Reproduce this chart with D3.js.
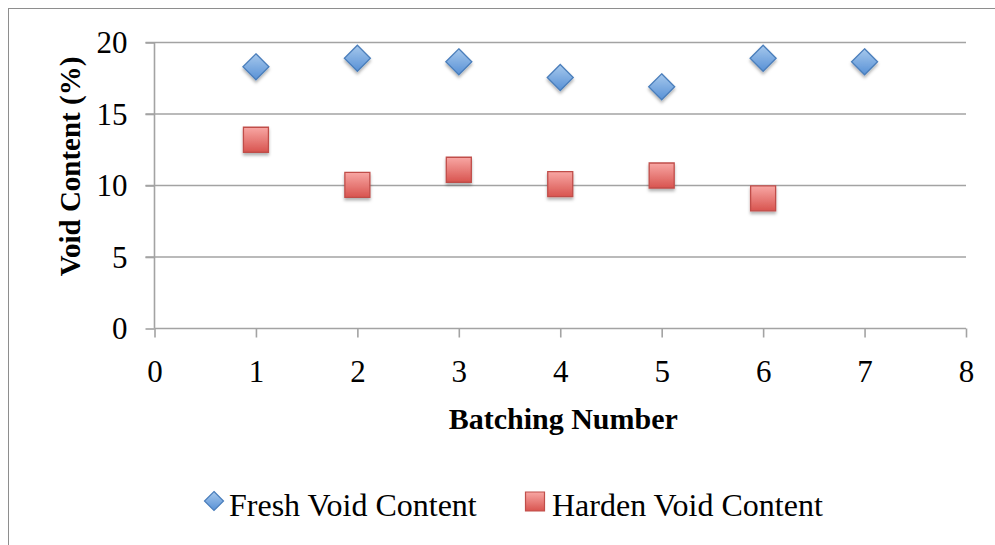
<!DOCTYPE html>
<html>
<head>
<meta charset="utf-8">
<script src="https://cdn.jsdelivr.net/npm/d3@7"></script>
<style>
  html, body { margin: 0; padding: 0; background: #fff; }
  svg { display: block; }
  text { font-family: "Liberation Serif", "Times New Roman", serif; fill: #000; }
</style>
</head>
<body>
<svg id="chart" width="995" height="545"></svg>
<script>
// Batching data: void content (%) measured fresh and after hardening
const batches = [1, 2, 3, 4, 5, 6, 7];
const freshVoid = [18.3, 18.9, 18.65, 17.55, 16.9, 18.9, 18.65];
const hardenBatches = [1, 2, 3, 4, 5, 6];
const hardenVoid = [13.2, 10.05, 11.1, 10.1, 10.7, 9.1];
const xTicks = [0, 1, 2, 3, 4, 5, 6, 7, 8];
const yTicks = [0, 5, 10, 15, 20];
const seriesNames = ["Fresh Void Content", "Harden Void Content"];

const svg = d3.select("#chart");
const defs = svg.append("defs");

// Gradients for the markers
const gBlue = defs.append("linearGradient").attr("id", "gBlue")
  .attr("x1", 0).attr("y1", 0).attr("x2", 0).attr("y2", 1);
gBlue.append("stop").attr("offset", "0%").attr("stop-color", "#a6c8ec");
gBlue.append("stop").attr("offset", "100%").attr("stop-color", "#5891d6");
const gRed = defs.append("linearGradient").attr("id", "gRed")
  .attr("x1", 0).attr("y1", 0).attr("x2", 0).attr("y2", 1);
gRed.append("stop").attr("offset", "0%").attr("stop-color", "#f8a7a4");
gRed.append("stop").attr("offset", "100%").attr("stop-color", "#d8544f");

const shadow = defs.append("filter").attr("id", "shadow")
  .attr("x", "-30%").attr("y", "-30%").attr("width", "160%").attr("height", "170%");
shadow.append("feDropShadow").attr("dx", 0).attr("dy", 2.5).attr("stdDeviation", 1.6)
  .attr("flood-color", "#000").attr("flood-opacity", 0.3);

// Outer chart frame
svg.append("rect")
  .attr("x", 8.5).attr("y", 8.5).attr("width", 1000).attr("height", 560)
  .attr("fill", "none").attr("stroke", "#8e8e8e").attr("stroke-width", 1);

const x = d3.scaleLinear().domain([0, 8]).range([154.5, 966]);
const y = d3.scaleLinear().domain([0, 20]).range([328.5, 42.5]);

const gridColor = "#a3a3a3";

// Horizontal gridlines (with left tick stubs)
svg.append("g").selectAll("line")
  .data(yTicks.filter(d => d > 0))
  .join("line")
  .attr("x1", x(0) - 9).attr("x2", x(8))
  .attr("y1", d => y(d)).attr("y2", d => y(d))
  .attr("stroke", gridColor).attr("stroke-width", 1.6);

// Y axis
const yAxis = d3.axisLeft(y).tickValues(yTicks).tickSize(9).tickPadding(18)
  .tickFormat(d3.format("d"));
const gy = svg.append("g").attr("transform", `translate(${x(0)},0)`).call(yAxis);
gy.select(".domain").attr("stroke", gridColor).attr("stroke-width", 1.6)
  .attr("d", `M0,${y(0)}V${y(20)}`);
gy.selectAll(".tick line").attr("stroke", gridColor).attr("stroke-width", 1.6);
gy.selectAll(".tick text").attr("font-size", 31).attr("dy", "0.33em")
  .style("font-family", "'Liberation Serif', serif").attr("fill", "#000");

// X axis
const xAxis = d3.axisBottom(x).tickValues(xTicks).tickSize(9).tickPadding(22)
  .tickFormat(d3.format("d"));
const gx = svg.append("g").attr("transform", `translate(0,${y(0)})`).call(xAxis);
gx.select(".domain").attr("stroke", gridColor).attr("stroke-width", 1.6)
  .attr("d", `M${x(0)},0H${x(8)}`);
gx.selectAll(".tick line").attr("stroke", gridColor).attr("stroke-width", 1.6);
gx.selectAll(".tick text").attr("font-size", 31)
  .style("font-family", "'Liberation Serif', serif").attr("fill", "#000");

// Axis titles
svg.append("text")
  .attr("x", (x(0) + x(8)) / 2 + 3).attr("y", 429)
  .attr("text-anchor", "middle").attr("font-size", 30).attr("font-weight", "bold")
  .text("Batching Number");
svg.append("text")
  .attr("transform", `translate(80,${(y(0) + y(20)) / 2 - 19}) rotate(-90)`)
  .attr("text-anchor", "middle").attr("font-size", 29).attr("font-weight", "bold")
  .text("Void Content (%)");

// Marker shapes
const diamond = r => `M0,${-r}L${r},0L0,${r}L${-r},0Z`;
const square = s => `M${-s / 2},${-s / 2}h${s}v${s}h${-s}Z`;

svg.append("g").attr("filter", "url(#shadow)").selectAll("path")
  .data(hardenBatches.map((b, i) => [b, hardenVoid[i]]))
  .join("path")
  .attr("d", square(25))
  .attr("transform", d => `translate(${x(d[0])},${y(d[1])})`)
  .attr("fill", "url(#gRed)").attr("stroke", "#c04e4a").attr("stroke-width", 1.3);

svg.append("g").attr("filter", "url(#shadow)").selectAll("path")
  .data(batches.map((b, i) => [b, freshVoid[i]]))
  .join("path")
  .attr("d", diamond(13))
  .attr("transform", d => `translate(${x(d[0])},${y(d[1])})`)
  .attr("fill", "url(#gBlue)").attr("stroke", "#4a7ebb").attr("stroke-width", 1.3);

// Legend
const legend = svg.append("g");
legend.append("path").attr("d", diamond(9.5))
  .attr("transform", "translate(214,501)")
  .attr("fill", "url(#gBlue)").attr("stroke", "#4a7ebb").attr("stroke-width", 1.2);
legend.append("text").attr("x", 229).attr("y", 516).attr("font-size", 32)
  .text(seriesNames[0]);
legend.append("path").attr("d", square(19))
  .attr("transform", "translate(535,501.5)")
  .attr("fill", "url(#gRed)").attr("stroke", "#c04e4a").attr("stroke-width", 1.2);
legend.append("text").attr("x", 552).attr("y", 516).attr("font-size", 32)
  .text(seriesNames[1]);
</script>
</body>
</html>
